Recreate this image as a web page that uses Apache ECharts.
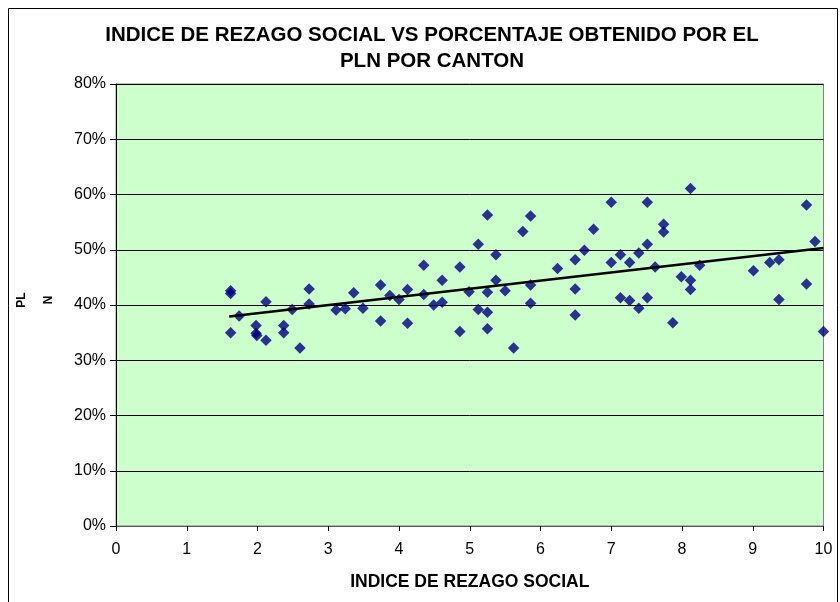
<!DOCTYPE html>
<html>
<head>
<meta charset="utf-8">
<script src="https://cdn.jsdelivr.net/npm/echarts@6/dist/echarts.min.js"></script>
<style>
html,body{margin:0;padding:0;background:#fff;}
#c{width:840px;height:602px;}
</style>
</head>
<body>
<div id="c"></div>
<script>
// Data
const xIndex = [1.62,1.62,1.62,1.74,1.98,1.98,1.99,2.12,2.12,2.37,2.37,2.49,2.60,2.73,2.73,3.11,3.24,3.36,3.49,3.74,3.74,3.87,4.00,4.12,4.12,4.35,4.35,4.49,4.61,4.61,4.86,4.86,4.99,5.12,5.12,5.25,5.25,5.25,5.25,5.37,5.37,5.50,5.62,5.75,5.86,5.86,5.86,6.24,6.49,6.49,6.49,6.62,6.75,7.00,7.00,7.13,7.13,7.26,7.26,7.39,7.39,7.51,7.51,7.51,7.62,7.74,7.74,7.87,7.99,8.12,8.12,8.12,8.25,9.01,9.24,9.37,9.37,9.76,9.76,9.88,10.0];
const plnPct = [42.6,42.1,35.0,38.0,36.3,34.9,34.5,40.6,33.6,36.3,35.0,39.2,32.2,42.9,40.2,39.1,39.3,42.2,39.4,43.6,37.1,41.7,41.0,42.8,36.7,47.2,41.9,40.0,44.5,40.5,46.9,35.2,42.4,51.0,39.2,56.3,42.3,38.7,35.7,49.1,44.5,42.6,32.2,53.3,56.1,43.6,40.3,46.6,48.2,42.9,38.2,49.9,53.7,58.6,47.7,49.1,41.3,47.7,40.8,49.4,39.4,58.6,51.0,41.3,46.9,54.6,53.2,36.8,45.1,61.1,44.5,42.8,47.2,46.2,47.7,48.2,41.0,58.1,43.8,51.5,35.2];
const trendX = [1.60, 10.0];
const trendY = [37.9, 50.3];
const titleLines = ['INDICE DE REZAGO SOCIAL VS PORCENTAJE OBTENIDO POR EL', 'PLN POR CANTON'];
const xTitle = 'INDICE DE REZAGO SOCIAL';
const yTitle = 'PL\nN';

const pts = xIndex.map((x, i) => [x, plnPct[i]]);
const trend = trendX.map((x, i) => [x, trendY[i]]);
const FONT = '"Liberation Sans", Arial, sans-serif';

const chart = echarts.init(document.getElementById('c'), null, {renderer: 'canvas'});
chart.setOption({
  animation: false,
  backgroundColor: '#fff',
  grid: {left: 116, right: 16.5, top: 84, bottom: 76, show: true, backgroundColor: '#CCFFCC', borderColor: '#808080', borderWidth: 1},
  xAxis: {
    type: 'value', min: 0, max: 10, interval: 1,
    axisLine: {show: true, onZero: false, lineStyle: {color: '#555', width: 1}},
    axisTick: {show: true, inside: false, length: 5, lineStyle: {color: '#000'}},
    axisLabel: {color: '#000', fontFamily: FONT, fontSize: 16, margin: 16},
    splitLine: {show: false},
    name: xTitle, nameLocation: 'middle', nameGap: 47,
    nameTextStyle: {color: '#000', fontFamily: FONT, fontSize: 17.5, fontWeight: 'bold'}
  },
  yAxis: {
    type: 'value', min: 0, max: 80, interval: 10,
    axisLine: {show: true, lineStyle: {color: '#000', width: 1}},
    axisTick: {show: true, inside: false, length: 6, lineStyle: {color: '#000'}},
    axisLabel: {color: '#000', fontFamily: FONT, fontSize: 16, margin: 10, formatter: '{value}%'},
    splitLine: {show: true, lineStyle: {color: '#000', width: 1}}
  },
  graphic: [
    {type: 'rect', x: 0, y: 0, silent: true, z: -10, shape: {x: 8.5, y: 8.5, width: 829, height: 600}, style: {fill: 'none', stroke: '#000', lineWidth: 1}},
    {type: 'text', x: 432, y: 35, style: {text: titleLines[0], align: 'center', verticalAlign: 'middle', font: 'bold 20.5px ' + FONT, fill: '#000'}},
    {type: 'text', x: 432, y: 61, style: {text: titleLines[1], align: 'center', verticalAlign: 'middle', font: 'bold 20.5px ' + FONT, fill: '#000'}},
    {type: 'text', x: 35.5, y: 300, rotation: Math.PI / 2, style: {text: yTitle, align: 'center', verticalAlign: 'middle', lineHeight: 27, font: 'bold 12px ' + FONT, fill: '#000'}}
  ],
  series: [
    {type: 'scatter', data: pts, symbol: 'diamond', symbolSize: 11.5, itemStyle: {color: '#000080'}, z: 3},
    {type: 'line', data: trend, showSymbol: false, symbol: 'none', lineStyle: {color: '#000', width: 2.5}, z: 4}
  ]
});
</script>
</body>
</html>
